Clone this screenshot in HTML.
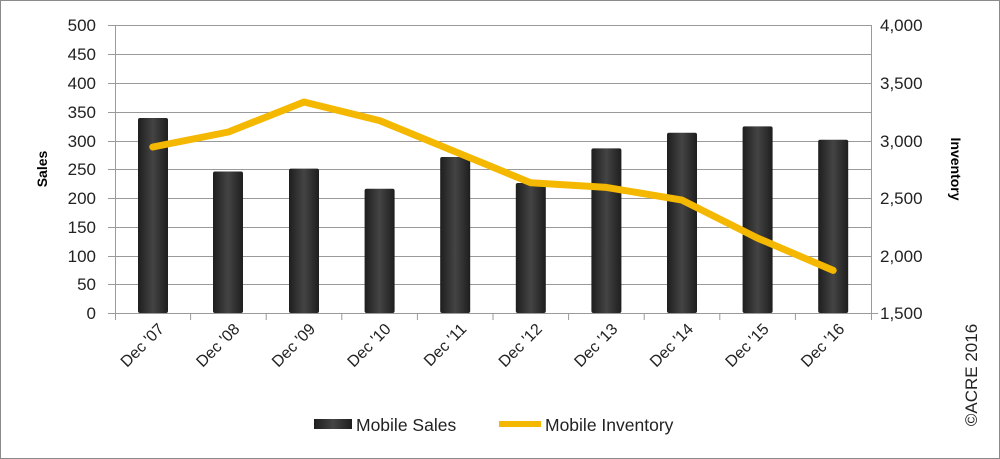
<!DOCTYPE html>
<html><head><style>body{margin:0;background:#fff}svg{display:block}text{font-family:"Liberation Sans",sans-serif}</style></head><body>
<svg width="1000" height="459" viewBox="0 0 1000 459">
<defs><linearGradient id="b" x1="0" x2="1"><stop offset="0" stop-color="#1e1e1e"/><stop offset="0.5" stop-color="#444"/><stop offset="1" stop-color="#1e1e1e"/></linearGradient></defs>
<rect x="0.5" y="0.5" width="999" height="458" fill="#fff" stroke="#8a8a8a"/>
<g stroke="#9a9a9a" stroke-width="1">
<line x1="108" x2="871" y1="25.5" y2="25.5"/><line x1="108" x2="871" y1="54.5" y2="54.5"/><line x1="108" x2="871" y1="83.5" y2="83.5"/><line x1="108" x2="871" y1="112.5" y2="112.5"/><line x1="108" x2="871" y1="141.5" y2="141.5"/><line x1="108" x2="871" y1="169.5" y2="169.5"/><line x1="108" x2="871" y1="198.5" y2="198.5"/><line x1="108" x2="871" y1="227.5" y2="227.5"/><line x1="108" x2="871" y1="256.5" y2="256.5"/><line x1="108" x2="871" y1="284.5" y2="284.5"/>
<line x1="108" x2="878" y1="313.5" y2="313.5"/>
<line x1="115.5" x2="115.5" y1="25" y2="313"/><line x1="871.5" x2="871.5" y1="25" y2="313"/>
<line x1="190.6" x2="190.6" y1="313" y2="320"/><line x1="266.2" x2="266.2" y1="313" y2="320"/><line x1="341.8" x2="341.8" y1="313" y2="320"/><line x1="417.4" x2="417.4" y1="313" y2="320"/><line x1="493" x2="493" y1="313" y2="320"/><line x1="568.6" x2="568.6" y1="313" y2="320"/><line x1="644.2" x2="644.2" y1="313" y2="320"/><line x1="719.8" x2="719.8" y1="313" y2="320"/><line x1="795.4" x2="795.4" y1="313" y2="320"/><line x1="115.5" x2="115.5" y1="313" y2="320"/><line x1="871.5" x2="871.5" y1="313" y2="320"/>
</g>
<g fill="url(#b)">
<rect x="138" y="118" width="30" height="195" rx="2"/>
<rect x="213" y="171.5" width="30" height="141.5" rx="2"/>
<rect x="289" y="168.6" width="30" height="144.4" rx="2"/>
<rect x="364.6" y="188.8" width="30" height="124.2" rx="2"/>
<rect x="440.2" y="157" width="30" height="156" rx="2"/>
<rect x="515.8" y="183" width="30" height="130" rx="2"/>
<rect x="591.4" y="148.4" width="30" height="164.6" rx="2"/>
<rect x="667" y="132.8" width="30" height="180.2" rx="2"/>
<rect x="742.6" y="126.4" width="30" height="186.6" rx="2"/>
<rect x="818.2" y="139.7" width="30" height="173.3" rx="2"/>
</g>
<polyline points="152.8,147 228.4,132 304,102 379.6,120.6 455.2,151.7 530.8,182.8 606.4,187.4 682,200.1 757.6,238.1 833.2,270.4" fill="none" stroke="#f5b800" stroke-width="7" stroke-linejoin="round" stroke-linecap="round"/>
<g font-size="17" fill="#222" text-anchor="end">
<text x="96" y="31">500</text><text x="96" y="60">450</text><text x="96" y="89">400</text><text x="96" y="118">350</text><text x="96" y="147">300</text><text x="96" y="175">250</text><text x="96" y="204">200</text><text x="96" y="233">150</text><text x="96" y="262">100</text><text x="96" y="290">50</text><text x="96" y="319">0</text>
</g>
<g font-size="17" fill="#222">
<text x="880" y="31">4,000</text><text x="880" y="89">3,500</text><text x="880" y="147">3,000</text><text x="880" y="204">2,500</text><text x="880" y="262">2,000</text><text x="880" y="319">1,500</text>
</g>
<text transform="translate(47,169) rotate(-90)" font-size="14" font-weight="bold" text-anchor="middle">Sales</text>
<text transform="translate(951,169) rotate(90)" font-size="14" font-weight="bold" text-anchor="middle">Inventory</text>
<text transform="translate(977,375) rotate(-90)" font-size="17" fill="#222" text-anchor="middle">©ACRE 2016</text>
<g font-size="16" fill="#222" text-anchor="end">
<text transform="translate(165,330) rotate(-45)">Dec '07</text>
<text transform="translate(240.6,330) rotate(-45)">Dec '08</text>
<text transform="translate(316.2,330) rotate(-45)">Dec '09</text>
<text transform="translate(391.8,330) rotate(-45)">Dec '10</text>
<text transform="translate(467.4,330) rotate(-45)">Dec '11</text>
<text transform="translate(543,330) rotate(-45)">Dec '12</text>
<text transform="translate(618.6,330) rotate(-45)">Dec '13</text>
<text transform="translate(694.2,330) rotate(-45)">Dec '14</text>
<text transform="translate(769.8,330) rotate(-45)">Dec '15</text>
<text transform="translate(845.4,330) rotate(-45)">Dec '16</text>
</g>
<rect x="314" y="419" width="38" height="10" fill="url(#b)"/>
<text x="356" y="431" font-size="17.5" fill="#222">Mobile Sales</text>
<line x1="499" x2="541" y1="424" y2="424" stroke="#f5b800" stroke-width="6"/>
<text x="545" y="431" font-size="17.5" fill="#222">Mobile Inventory</text>
</svg>
</body></html>
